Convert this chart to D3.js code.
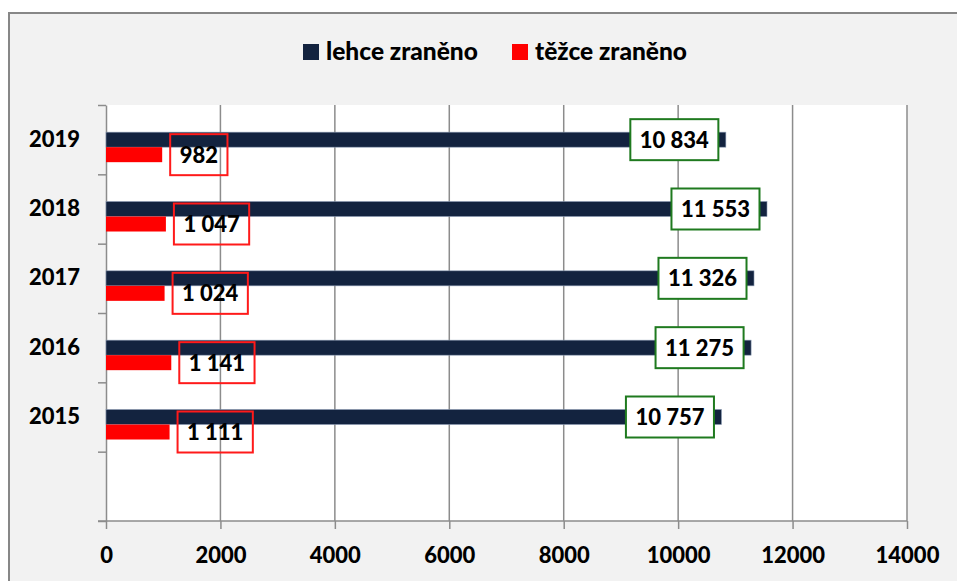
<!DOCTYPE html>
<html>
<head>
<meta charset="utf-8">
<script src="https://cdn.jsdelivr.net/npm/d3@7"></script>
<style>
  body { margin: 0; background: #fff; }
  text { font-family: Lato, "Open Sans", sans-serif; font-weight: 900; fill: #000; }
</style>
</head>
<body>
<div id="chart"></div>
<script>
// data
var years = ["2019", "2018", "2017", "2016", "2015", ""];
var seriesNames = ["lehce zraněno", "těžce zraněno"];
var lehce = [10834, 11553, 11326, 11275, 10757];
var tezce = [982, 1047, 1024, 1141, 1111];
var xTicks = [0, 2000, 4000, 6000, 8000, 10000, 12000, 14000];

var svgWidth = 957;
var svgHeight = 581;

var plot = { left: 106, right: 907, top: 105, bottom: 521 };

var svg = d3.select("#chart").append("svg")
  .attr("width", svgWidth)
  .attr("height", svgHeight);

// grey chart background with border on top/left
svg.append("rect")
  .attr("x", 9).attr("y", 13)
  .attr("width", svgWidth).attr("height", svgHeight)
  .attr("fill", "#f2f2f2")
  .attr("stroke", "#878787")
  .attr("stroke-width", 2);

svg.append("rect")
  .attr("x", plot.left).attr("y", plot.top)
  .attr("width", plot.right - plot.left)
  .attr("height", plot.bottom - plot.top)
  .attr("fill", "#fff");

var xScale = d3.scaleLinear()
  .domain([0, 14000])
  .range([plot.left, plot.right]);

var yScale = d3.scaleBand()
  .domain(years)
  .range([plot.top, plot.bottom]);

// 3 slots per year, first one is empty (like the original sheet)
var inner = d3.scaleBand()
  .domain(["x"].concat(seriesNames))
  .range([0, yScale.bandwidth()])
  .paddingOuter(0.81);

var fmt = d3.formatLocale({ decimal: ",", thousands: " ", grouping: [3], currency: ["", " Kč"] }).format(",d");

// gridlines
svg.append("g")
  .selectAll("line")
  .data(xTicks.slice(1))
  .enter().append("line")
  .attr("x1", d => xScale(d)).attr("x2", d => xScale(d))
  .attr("y1", plot.top).attr("y2", plot.bottom)
  .attr("stroke", "#8c8c8c")
  .attr("stroke-width", 1.5);

// x axis
var bottomAxis = d3.axisBottom(xScale)
  .tickValues(xTicks)
  .tickSize(8)
  .tickSizeOuter(0)
  .tickPadding(18)
  .tickFormat(d => d);

var xg = svg.append("g")
  .attr("transform", "translate(0," + plot.bottom + ")")
  .call(bottomAxis);
xg.select(".domain").remove();
xg.selectAll("line").attr("stroke", "#8c8c8c").attr("stroke-width", 1.5);
xg.selectAll("text").style("font-size", "22px").style("font-family", "Lato, sans-serif").attr("fill", "#000");

svg.append("line")
  .attr("x1", plot.left - 8).attr("x2", plot.right)
  .attr("y1", plot.bottom).attr("y2", plot.bottom)
  .attr("stroke", "#8c8c8c").attr("stroke-width", 1.5);

// y axis: ticks sit on the band edges
var edgeScale = d3.scaleLinear().domain([0, years.length]).range([plot.bottom, plot.top]);
var edgeAxis = d3.axisLeft(edgeScale).ticks(years.length).tickSize(8).tickSizeOuter(0).tickFormat("");
var eg = svg.append("g")
  .attr("transform", "translate(" + plot.left + ",0)")
  .call(edgeAxis);
eg.select(".domain").attr("stroke", "#8c8c8c").attr("stroke-width", 1.5);
eg.selectAll("line").attr("stroke", "#8c8c8c").attr("stroke-width", 1.5);

var leftAxis = d3.axisLeft(yScale).tickSize(0).tickPadding(26);
var yg = svg.append("g")
  .attr("transform", "translate(" + plot.left + ",0)")
  .call(leftAxis);
yg.select(".domain").remove();
yg.selectAll("text").style("font-size", "22px").style("font-family", "Lato, sans-serif").attr("fill", "#000");

// bars
var rows = years.slice(0, 5).map((y, i) => ({ year: y, lehce: lehce[i], tezce: tezce[i] }));

svg.append("g").selectAll("rect")
  .data(rows)
  .enter().append("rect")
  .attr("x", xScale(0))
  .attr("y", d => yScale(d.year) + inner(seriesNames[0]))
  .attr("width", d => xScale(d.lehce) - xScale(0))
  .attr("height", inner.bandwidth())
  .attr("fill", "#13233f")
  .attr("stroke", "#8a9ab2")
  .attr("stroke-width", 0.6);

svg.append("g").selectAll("rect")
  .data(rows)
  .enter().append("rect")
  .attr("x", xScale(0))
  .attr("y", d => yScale(d.year) + inner(seriesNames[1]))
  .attr("width", d => xScale(d.tezce) - xScale(0))
  .attr("height", inner.bandwidth())
  .attr("fill", "#ff0000");

// data labels in boxes
var boxH = 41;
var padX = 9.5;

function addLabel(value, barName, year, color, inside) {
  var cy = yScale(year) + inner(barName) + inner.bandwidth() / 2;
  var g = svg.append("g");
  var box = g.append("rect");
  var t = g.append("text")
    .attr("text-anchor", "middle")
    .attr("dy", "0.36em")
    .style("font-size", "22px")
    .text(fmt(value));
  var w = t.node().getComputedTextLength() + padX * 2;
  var x0 = inside ? xScale(value) - 7.5 - w : xScale(value) + 8;
  box.attr("x", x0).attr("y", cy - boxH / 2)
    .attr("width", w).attr("height", boxH)
    .attr("fill", inside ? "#fff" : "none")
    .attr("stroke", color)
    .attr("stroke-width", 2);
  t.attr("x", x0 + w / 2).attr("y", cy);
}

rows.forEach(function(d) {
  addLabel(d.lehce, seriesNames[0], d.year, "#1f7a1f", true);
  addLabel(d.tezce, seriesNames[1], d.year, "#ff1a1a", false);
});

// legend
var legend = [
  { name: seriesNames[0], color: "#13233f", x: 303 },
  { name: seriesNames[1], color: "#ff0000", x: 512 }
];
var lg = svg.append("g").selectAll("g")
  .data(legend)
  .enter().append("g")
  .attr("transform", d => "translate(" + d.x + ",44)");
lg.append("rect")
  .attr("width", 16).attr("height", 16)
  .attr("fill", d => d.color);
lg.append("text")
  .attr("x", 23).attr("y", 15.5)
  .style("font-size", "24.5px")
  .text(d => d.name);
</script>
</body>
</html>
